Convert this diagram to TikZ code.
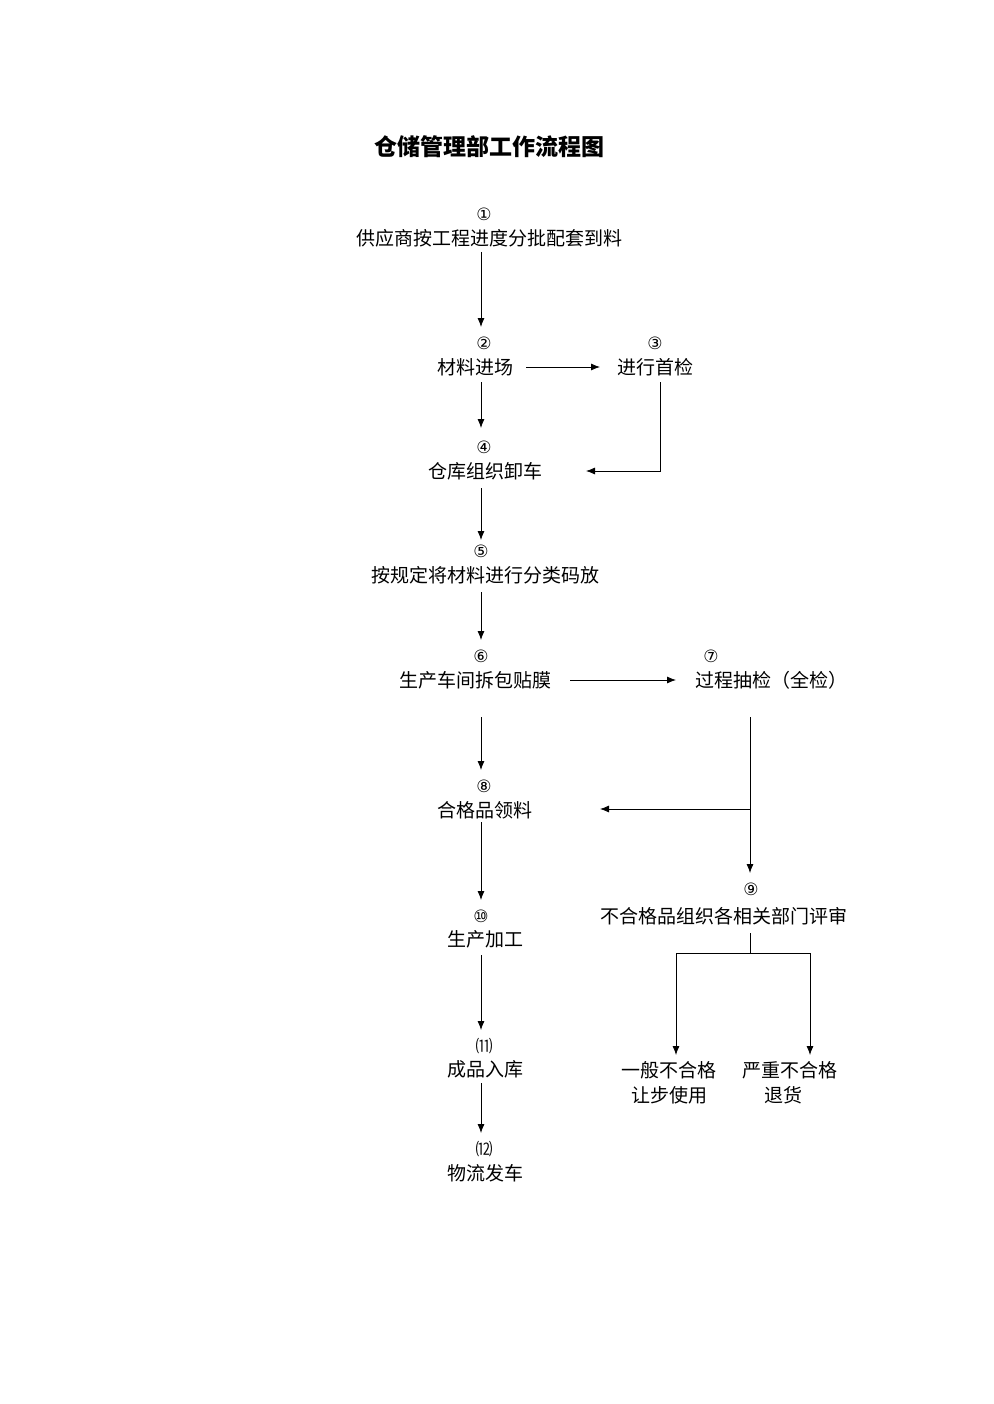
\documentclass[tikz,border=0pt]{standalone}
\usepackage{fontspec}
\setmainfont{Noto Sans CJK SC}
\newfontfamily\sym{DejaVu Sans}
\newfontfamily\cjk{Noto Sans CJK SC}
\usetikzlibrary{arrows.meta}
\begin{document}
\begin{tikzpicture}[x=1pt,y=-1pt,
  t/.style={font=\fontsize{19}{21}\selectfont,inner sep=0pt},
  num/.style={font=\sym\fontsize{17}{18}\selectfont,inner sep=0pt},
  pnum/.style={font=\cjk\fontsize{17}{18}\selectfont,inner sep=0pt},
  ar/.style={-{Latex[length=9pt,width=7pt]},line width=0.8pt},
  ln/.style={line width=0.8pt}]
\useasboundingbox (0,0) rectangle (993,1404);
\node[font=\bfseries\fontsize{23}{25}\selectfont] (title) at (489,147) {仓储管理部工作流程图};
\node[num] (n1n) at (484,214) {①};
\node[t] (n1) at (489,238) {供应商按工程进度分批配套到料};
\node[num] (n2n) at (484,343) {②};
\node[t] (n2) at (475,367) {材料进场};
\node[num] (n3n) at (655,343) {③};
\node[t] (n3) at (655,367) {进行首检};
\node[num] (n4n) at (484,447) {④};
\node[t] (n4) at (485,471) {仓库组织卸车};
\node[num] (n5n) at (481,551) {⑤};
\node[t] (n5) at (485,575) {按规定将材料进行分类码放};
\node[num] (n6n) at (481,656) {⑥};
\node[t] (n6) at (475,680) {生产车间拆包贴膜};
\node[num] (n7n) at (711,656) {⑦};
\node[t] (n7) at (771,680) {过程抽检（全检）};
\node[num] (n8n) at (484,786) {⑧};
\node[t] (n8) at (485,810) {合格品领料};
\node[num] (n9n) at (751,889) {⑨};
\node[t] (n9) at (724,916) {不合格品组织各相关部门评审};
\node[num] (n10n) at (481,916) {⑩};
\node[t] (n10) at (485,939) {生产加工};
\node[pnum] (n11n) at (484,1046) {⑾};
\node[t] (n11) at (485,1069) {成品入库};
\node[pnum] (n12n) at (484,1149) {⑿};
\node[t] (n12) at (485,1173) {物流发车};
\node[t] (a1) at (669,1070) {一般不合格};
\node[t] (a4) at (669,1095) {让步使用};
\node[t] (a2) at (790,1070) {严重不合格};
\node[t] (a3) at (783,1095) {退货};
\coordinate (c1) at (481,252); \coordinate (c2) at (481,327);
\coordinate (c3) at (526,367); \coordinate (c4) at (600,367);
\coordinate (c5) at (660,382); \coordinate (c6) at (660,471); \coordinate (c7) at (586,471);
\coordinate (c8) at (481,382); \coordinate (c9) at (481,428);
\coordinate (c10) at (481,488); \coordinate (c11) at (481,540);
\coordinate (c12) at (481,592); \coordinate (c13) at (481,640);
\coordinate (c14) at (570,680); \coordinate (c15) at (676,680);
\coordinate (c16) at (750,717); \coordinate (c17) at (750,809); \coordinate (c18) at (750,873); \coordinate (c19) at (600,809);
\coordinate (c20) at (481,717); \coordinate (c21) at (481,770);
\coordinate (c22) at (481,822); \coordinate (c23) at (481,900);
\coordinate (c24) at (481,955); \coordinate (c25) at (481,1030);
\coordinate (c26) at (481,1083); \coordinate (c27) at (481,1133);
\coordinate (c28) at (750,933); \coordinate (c29) at (750,953);
\coordinate (c30) at (676,953); \coordinate (c31) at (810,953);
\coordinate (c32) at (676,1055); \coordinate (c33) at (810,1055);
\draw[ar] (c1) -- (c2);
\draw[ar] (c3) -- (c4);
\draw[ar] (c5) -- (c6) -- (c7);
\draw[ar] (c8) -- (c9);
\draw[ar] (c10) -- (c11);
\draw[ar] (c12) -- (c13);
\draw[ar] (c14) -- (c15);
\draw[ar] (c16) -- (c18);
\draw[ar] (c17) -- (c19);
\draw[ar] (c20) -- (c21);
\draw[ar] (c22) -- (c23);
\draw[ar] (c24) -- (c25);
\draw[ar] (c26) -- (c27);
\draw[ln] (c28) -- (c29);
\draw[ln] (c30) -- (c31);
\draw[ar] (c30) -- (c32);
\draw[ar] (c31) -- (c33);
\end{tikzpicture}
\end{document}
